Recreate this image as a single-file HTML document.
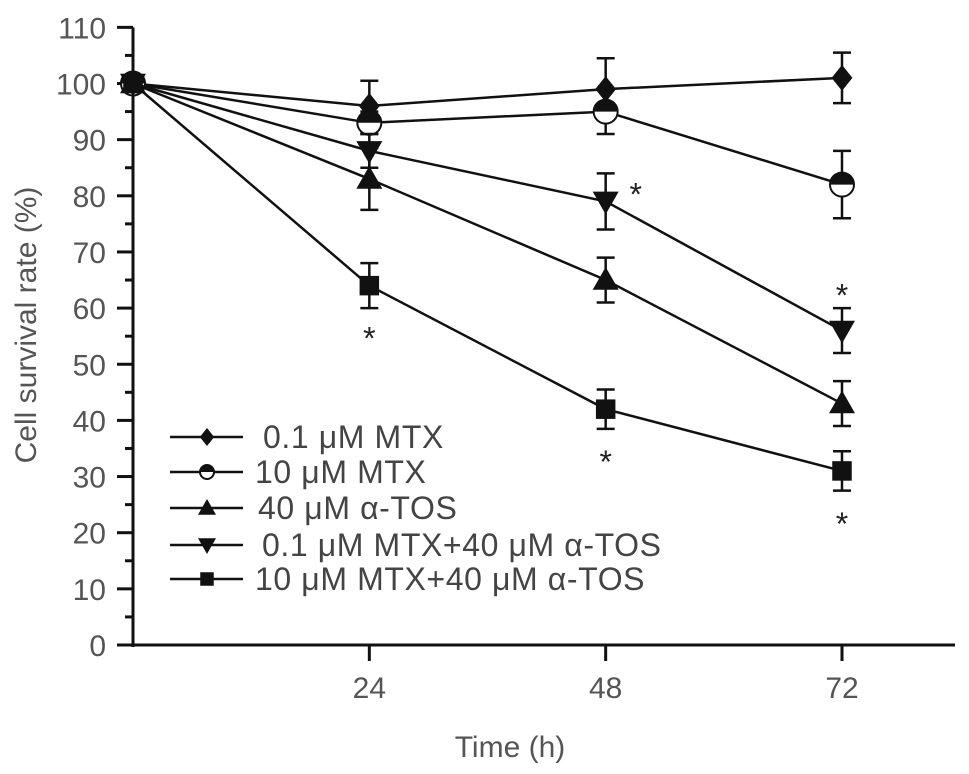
<!DOCTYPE html>
<html><head><meta charset="utf-8"><style>
body{margin:0;background:#fff}
svg{display:block;font-family:"Liberation Sans",sans-serif}
</style></head><body>
<svg id="chart" width="969" height="774" viewBox="0 0 969 774" xmlns="http://www.w3.org/2000/svg">
<g id="axes"></g>
<g id="plot"></g>
<g id="legend"></g>
<text x="36" y="325" transform="rotate(-90 36 325)" text-anchor="middle" font-size="30" fill="#555">Cell survival rate (%)</text>
<text x="510" y="757" text-anchor="middle" font-size="30" fill="#555">Time (h)</text>
</svg>
<script>
const times=[0,24,48,72];
const seriesNames=["0.1 μM MTX","10 μM MTX","40 μM α-TOS","0.1 μM MTX+40 μM α-TOS","10 μM MTX+40 μM α-TOS"];
const markers=["diamond","circle","up","down","square"];
const vDiamond=[100,96,99,101];
const eDiamond=[0,4.5,5.5,4.5];
const vCircle=[100,93,95,82];
const eCircle=[0,2,4,6];
const vUp=[100,83,65,43];
const eUp=[0,5.5,4,4];
const vDown=[100,88,79,56];
const eDown=[0,3,5,4];
const vSquare=[100,64,42,31];
const eSquare=[0,4,3.5,3.5];
const yTicks=[0,10,20,30,40,50,60,70,80,90,100,110];
const xTicks=[24,48,72];
const stars=[[48,79,"right"],[72,56,"above"],[24,64,"below"],[48,42,"below"],[72,31,"below"]];

const NS="http://www.w3.org/2000/svg";
const X=t=>133+t*(709/72);
const Y=v=>645-v*5.615;
function mk(tag,attrs,parent){const e=document.createElementNS(NS,tag);for(const k in attrs)e.setAttribute(k,attrs[k]);parent.appendChild(e);return e;}
const axes=document.getElementById('axes'),plot=document.getElementById('plot'),legend=document.getElementById('legend');
let a=mk('line',{x1:133,y1:Y(110),x2:133,y2:647,stroke:'#111','stroke-width':3},axes);

a=mk('line',{x1:131,y1:645,x2:955,y2:645,stroke:'#111','stroke-width':3},axes);

yTicks.forEach(v=>{
  const l=mk('line',{x1:117,y1:Y(v),x2:133,y2:Y(v),stroke:'#111','stroke-width':3},axes);
  
  if(v<110){const m=mk('line',{x1:125,y1:Y(v+5),x2:133,y2:Y(v+5),stroke:'#111','stroke-width':3},axes);
  }
  const t=mk('text',{x:106,y:Y(v)+11,'text-anchor':'end','font-size':30,fill:'#555'},axes);t.textContent=v;
  
});
xTicks.forEach(v=>{
  const l=mk('line',{x1:X(v),y1:645,x2:X(v),y2:661,stroke:'#111','stroke-width':3},axes);
  
  const t=mk('text',{x:X(v),y:698,'text-anchor':'middle','font-size':30,fill:'#555'},axes);t.textContent=v;
  
});
function marker(type,cx,cy,s,parent){
  let e;
  if(type==='diamond')e=mk('polygon',{points:`${cx},${cy-s} ${cx+s*0.8},${cy} ${cx},${cy+s} ${cx-s*0.8},${cy}`,fill:'#111'},parent);
  else if(type==='square')e=mk('rect',{x:cx-s*0.75,y:cy-s*0.75,width:s*1.5,height:s*1.5,fill:'#111'},parent);
  else if(type==='up')e=mk('polygon',{points:`${cx},${cy-s} ${cx+s},${cy+s*0.75} ${cx-s},${cy+s*0.75}`,fill:'#111'},parent);
  else if(type==='down')e=mk('polygon',{points:`${cx},${cy+s} ${cx+s},${cy-s*0.75} ${cx-s},${cy-s*0.75}`,fill:'#111'},parent);
  else{e=mk('g',{},parent);
    mk('circle',{cx:cx,cy:cy,r:s,fill:'#fff',stroke:'#111','stroke-width':2},e);
    mk('path',{d:`M${cx-s},${cy} A${s},${s} 0 0 1 ${cx+s},${cy} Z`,fill:'#111'},e);}
  return e;
}
const vals=[vDiamond,vCircle,vUp,vDown,vSquare],errs=[eDiamond,eCircle,eUp,eDown,eSquare];
vals.forEach((vs,i)=>{
  const g=mk('g',{},plot);
  
  const p=mk('polyline',{points:vs.map((v,j)=>X(times[j])+','+Y(v)).join(' '),fill:'none',stroke:'#111','stroke-width':2.5},g);
  
  vs.forEach((v,j)=>{
    const e=errs[i][j],x=X(times[j]);
    if(e>0){const eb=mk('path',{d:`M${x},${Y(v+e)}V${Y(v-e)}M${x-9},${Y(v+e)}H${x+9}M${x-9},${Y(v-e)}H${x+9}`,stroke:'#111','stroke-width':2.5,fill:'none'},g);
      }
    const m=marker(markers[i],x,Y(v),markers[i]==='circle'?12:13,g);
    
  });
});
stars.forEach(s=>{
  let x=X(s[0]),y=Y(s[1]);
  if(s[2]==='right'){x+=30;y-=12;}else if(s[2]==='above'){y-=40;}else{y+=48;}
  const t=mk('text',{x:x,y:y+16,'text-anchor':'middle','font-size':32,fill:'#222'},plot);t.textContent='*';
  
});
const ly=[437,472,508,545,579],lx=[263,255,258,262,255];
seriesNames.forEach((n,i)=>{
  const g=mk('g',{},legend);
  
  mk('line',{x1:170,y1:ly[i],x2:243,y2:ly[i],stroke:'#111','stroke-width':2.5},g);
  marker(markers[i],207,ly[i],markers[i]==='circle'?7:9,g);
  const t=mk('text',{x:lx[i],y:ly[i]+11,'font-size':32,'letter-spacing':0.6,fill:'#444'},g);t.textContent=n;
});
</script>
</body></html>
